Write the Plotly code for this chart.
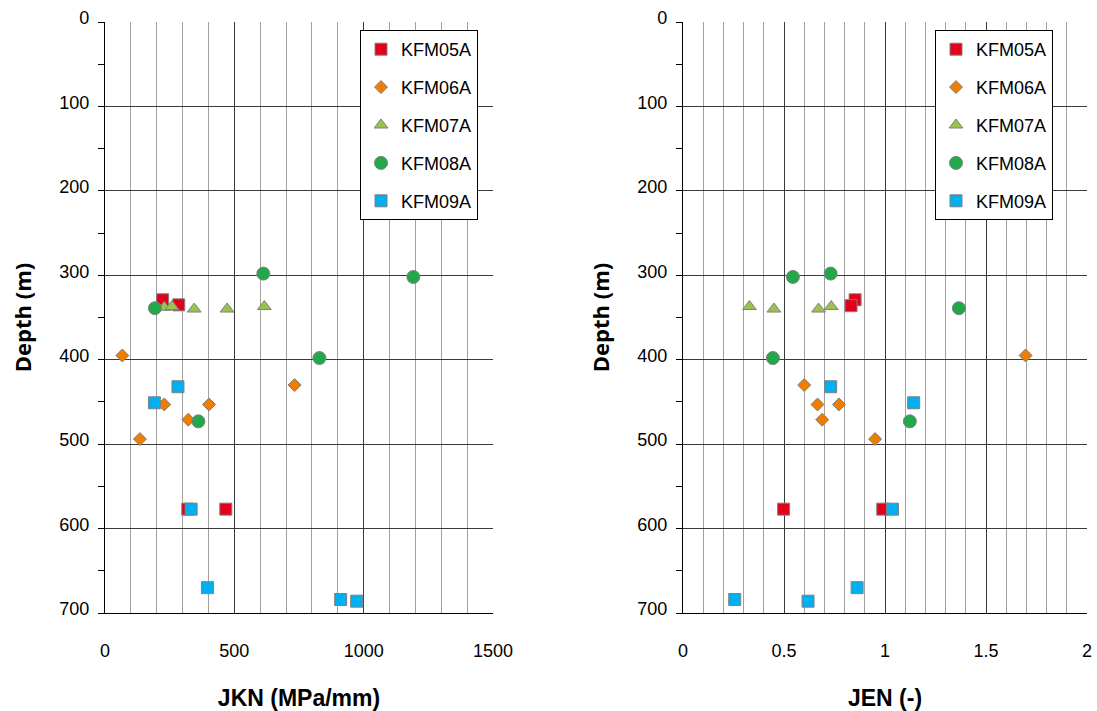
import plotly.graph_objects as go

series = ["KFM05A", "KFM06A", "KFM07A", "KFM08A", "KFM09A"]
colors = ["#E2001A", "#EE7D00", "#9BC24A", "#22A84A", "#00B0F0"]
symbols = ["square", "diamond", "triangle-up", "circle", "square"]
sizes = [12, 10, 12, 13, 12]

# Left panel: JKN (MPa/mm) vs depth (m)
jkn_kfm05a = [223, 285, 320, 467]
dep_kfm05a_l = [329, 335, 577, 577]
jkn_kfm06a = [67, 733, 229, 402, 322, 135]
dep_kfm06a_l = [395, 430, 453, 453, 471, 494]
jkn_kfm07a = [229, 259, 345, 472, 616]
dep_kfm07a_l = [338, 337, 340, 340, 337]
jkn_kfm08a = [612, 1192, 193, 829, 361]
dep_kfm08a_l = [298, 302, 339, 398, 473]
jkn_kfm09a = [282, 191, 333, 396, 911, 973]
dep_kfm09a_l = [432, 451, 577, 670, 684, 686]

# Right panel: JEN (-) vs depth (m)
jen_kfm05a = [0.852, 0.832, 0.498, 0.989]
dep_kfm05a_r = [329, 336, 577, 577]
jen_kfm06a = [1.696, 0.600, 0.666, 0.772, 0.689, 0.951]
dep_kfm06a_r = [395, 430, 453, 453, 471, 494]
jen_kfm07a = [0.329, 0.450, 0.671, 0.734]
dep_kfm07a_r = [337, 340, 340, 337]
jen_kfm08a = [0.544, 0.731, 1.366, 0.445, 1.123]
dep_kfm08a_r = [302, 298, 339, 398, 473]
jen_kfm09a = [0.731, 1.142, 1.037, 0.862, 0.256, 0.619]
dep_kfm09a_r = [432, 451, 577, 670, 684, 686]

left_x = [jkn_kfm05a, jkn_kfm06a, jkn_kfm07a, jkn_kfm08a, jkn_kfm09a]
left_y = [dep_kfm05a_l, dep_kfm06a_l, dep_kfm07a_l, dep_kfm08a_l, dep_kfm09a_l]
right_x = [jen_kfm05a, jen_kfm06a, jen_kfm07a, jen_kfm08a, jen_kfm09a]
right_y = [dep_kfm05a_r, dep_kfm06a_r, dep_kfm07a_r, dep_kfm08a_r, dep_kfm09a_r]

depth_ticks = [0, 100, 200, 300, 400, 500, 600, 700]
jkn_ticks = [0, 500, 1000, 1500]
jen_ticks = [0, 0.5, 1, 1.5, 2]
jen_ticktext = ["0", "0.5", "1", "1.5", "2"]

FONT = "Liberation Sans, Arial, sans-serif"
fig = go.Figure()

for i, name in enumerate(series):
    mk = dict(symbol=symbols[i], size=sizes[i], color=colors[i],
              line=dict(color="#808080", width=1))
    fig.add_trace(go.Scatter(x=left_x[i], y=left_y[i], mode="markers", name=name,
                             marker=mk, xaxis="x", yaxis="y", legend="legend",
                             legendgroup="L" + name))
    fig.add_trace(go.Scatter(x=right_x[i], y=right_y[i], mode="markers", name=name,
                             marker=mk, xaxis="x2", yaxis="y2", legend="legend2",
                             legendgroup="R" + name))

W, H = 1097, 711


def px(x):
    return x / W


def py(y):
    return 1 - y / H


ydom = [py(613), py(22)]

major_grid = "#3a3a3a"
minor_grid = "#a0a0a0"


def xaxis_common(dom, rng, minor_dtick, tickvals, ticktext, title, anchor):
    return dict(
        domain=dom, range=rng, anchor=anchor, automargin=False,
        tickmode="array", tickvals=tickvals, ticktext=ticktext,
        showgrid=True, gridcolor=major_grid, gridwidth=1,
        minor=dict(dtick=minor_dtick, showgrid=True, gridcolor=minor_grid, gridwidth=1.3, ticks=""),
        showline=True, linecolor="black", linewidth=1.3,
        ticks="", ticklabelstandoff=21, ticklabeloverflow="allow",
        tickfont=dict(family=FONT, size=18, color="black"),
        title=dict(text=title, font=dict(family=FONT, size=23, color="black", weight="bold"), standoff=30),
        zeroline=False, fixedrange=True,
    )


def yaxis_common(dom, anchor):
    return dict(
        domain=dom, range=[700, 0], anchor=anchor, automargin=False,
        tickmode="array", tickvals=depth_ticks, ticktext=[str(v) for v in depth_ticks],
        showgrid=True, gridcolor=major_grid, gridwidth=1,
        minor=dict(dtick=50, tick0=0, ticks="outside", ticklen=6, tickcolor="black", showgrid=False),
        ticks="outside", ticklen=6, tickcolor="black",
        showline=True, linecolor="black", linewidth=1.3,
        ticklabelstandoff=5, ticklabelshift=4, ticklabeloverflow="allow",
        tickfont=dict(family=FONT, size=18, color="black"),
        title=dict(text="Depth (m)", font=dict(family="Open Sans, sans-serif", size=22, color="black", weight="bold"), standoff=21),
        zeroline=False, fixedrange=True,
    )


legend_style = dict(xanchor="left", yanchor="top",
                    bgcolor="white", bordercolor="black", borderwidth=1,
                    font=dict(family=FONT, size=18, color="black"),
                    tracegroupgap=11.5, itemwidth=30)

fig.update_layout(
    width=W, height=H,
    margin=dict(l=0, r=0, t=0, b=0, pad=0),
    paper_bgcolor="white", plot_bgcolor="white",
    xaxis=xaxis_common([px(105), px(493)], [0, 1500], 100, jkn_ticks,
                       [str(v) for v in jkn_ticks], "JKN (MPa/mm)", "y"),
    yaxis=yaxis_common(ydom, "x"),
    xaxis2=xaxis_common([px(683), px(1087)], [0, 2], 0.1, jen_ticks,
                        jen_ticktext, "JEN (-)", "y2"),
    yaxis2=yaxis_common(ydom, "x2"),
    legend=dict(x=px(360), y=py(30), **legend_style),
    legend2=dict(x=px(935), y=py(30), **legend_style),
    showlegend=True,
)

fig.write_html("out.html", config={"displayModeBar": False},
               post_script="document.body.style.margin='0px';document.body.style.overflow='hidden';")
